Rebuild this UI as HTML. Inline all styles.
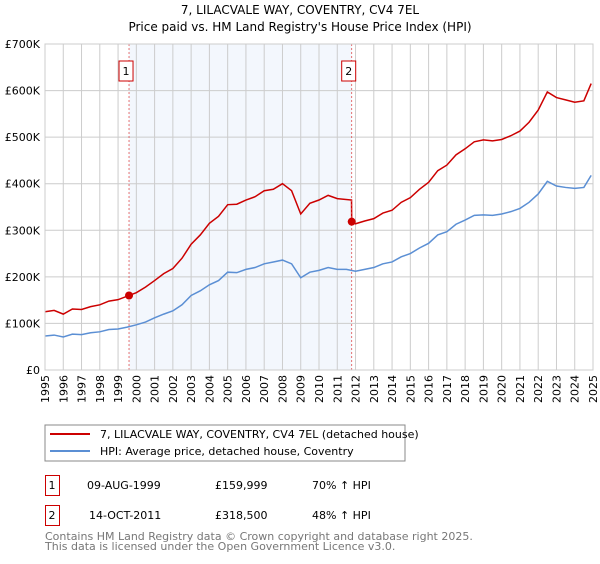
<!DOCTYPE html>
<html><head><meta charset="utf-8"><style>
body{margin:0;background:#fff;font-family:"DejaVu Sans","Liberation Sans",sans-serif;}
svg text{font-family:"DejaVu Sans","Liberation Sans",sans-serif;}
</style></head><body>
<svg id="c" width="600" height="560" xmlns="http://www.w3.org/2000/svg">
<text x="300" y="14" text-anchor="middle" font-size="12">7, LILACVALE WAY, COVENTRY, CV4 7EL</text>
<text x="300" y="31" text-anchor="middle" font-size="12">Price paid vs. HM Land Registry's House Price Index (HPI)</text>
<g id="grid"></g><g id="series"></g><g id="axes"></g>
<rect x="45" y="425" width="360" height="36" fill="#fff" stroke="#888"/>
<line x1="50" y1="434" x2="90" y2="434" stroke="#cc0000" stroke-width="2"/>
<text x="100" y="438" font-size="11">7, LILACVALE WAY, COVENTRY, CV4 7EL (detached house)</text>
<line x1="50" y1="451" x2="90" y2="451" stroke="#5b8fd4" stroke-width="2"/>
<text x="100" y="455" font-size="11">HPI: Average price, detached house, Coventry</text>
<g>
<rect x="45.5" y="475.5" width="14" height="20" fill="none" stroke="#cc0000"/><text x="52" y="489" font-size="11" text-anchor="middle">1</text>
<text x="87" y="489" font-size="11">09-AUG-1999</text><text x="215" y="489" font-size="11">£159,999</text><text x="312" y="489" font-size="11">70% ↑ HPI</text></g>
<g>
<rect x="45.5" y="505.5" width="14" height="20" fill="none" stroke="#cc0000"/><text x="52" y="519" font-size="11" text-anchor="middle">2</text>
<text x="89" y="519" font-size="11">14-OCT-2011</text><text x="215" y="519" font-size="11">£318,500</text><text x="312" y="519" font-size="11">48% ↑ HPI</text></g>
<text x="45" y="540" font-size="11" fill="#777">Contains HM Land Registry data © Crown copyright and database right 2025.</text>
<text x="45" y="550" font-size="11" fill="#777">This data is licensed under the Open Government Licence v3.0.</text>
</svg>
<script>
const hpiYears=[1995,1995.5,1996,1996.5,1997,1997.5,1998,1998.5,1999,1999.5,2000,2000.5,2001,2001.5,2002,2002.5,2003,2003.5,2004,2004.5,2005,2005.5,2006,2006.5,2007,2007.5,2008,2008.5,2009,2009.5,2010,2010.5,2011,2011.5,2012,2012.5,2013,2013.5,2014,2014.5,2015,2015.5,2016,2016.5,2017,2017.5,2018,2018.5,2019,2019.5,2020,2020.5,2021,2021.5,2022,2022.5,2023,2023.5,2024,2024.5,2024.9];
const hpiValues=[73,75,71,77,76,80,82,87,88,92,97,103,112,120,127,140,160,170,183,192,210,209,216,220,228,232,236,228,198,210,214,220,216,216,212,216,220,228,232,243,250,262,272,290,297,313,322,332,333,332,335,340,347,360,378,405,395,392,390,392,418];
const redYears=[1995,1995.5,1996,1996.5,1997,1997.5,1998,1998.5,1999,1999.6,2000,2000.5,2001,2001.5,2002,2002.5,2003,2003.5,2004,2004.5,2005,2005.5,2006,2006.5,2007,2007.5,2008,2008.5,2009,2009.5,2010,2010.5,2011,2011.78,2011.79,2012,2012.5,2013,2013.5,2014,2014.5,2015,2015.5,2016,2016.5,2017,2017.5,2018,2018.5,2019,2019.5,2020,2020.5,2021,2021.5,2022,2022.5,2023,2023.5,2024,2024.5,2024.9];
const redValues=[125,128,120,131,130,136,140,148,151,160,166,178,192,207,218,240,270,290,315,330,355,356,365,372,385,388,400,385,335,358,365,375,368,365,318.5,314,320,325,337,343,360,370,388,403,428,440,462,475,490,494,492,495,503,513,532,558,597,585,580,575,578,615];
const saleYears=[1999.6,2011.79];
const saleValues=[159.999,318.5];
const saleLabels=["1","2"];
const yTicks=[0,100,200,300,400,500,600,700];
const yTickLabels=["£0","£100K","£200K","£300K","£400K","£500K","£600K","£700K"];
const xTicks=[1995,1996,1997,1998,1999,2000,2001,2002,2003,2004,2005,2006,2007,2008,2009,2010,2011,2012,2013,2014,2015,2016,2017,2018,2019,2020,2021,2022,2023,2024,2025];

const X0=45,X1=593,Y0=370,Y1=44;
const xs=v=>X0+(v-1995)/30*(X1-X0);
const ys=v=>Y0-v/700*(Y0-Y1);
const NS="http://www.w3.org/2000/svg";
function mk(tag,attrs,parent,txt){const e=document.createElementNS(NS,tag);for(const k in attrs)e.setAttribute(k,attrs[k]);if(txt!==undefined)e.textContent=txt;parent.appendChild(e);return e;}
const grid=document.getElementById('grid'),ser=document.getElementById('series'),ax=document.getElementById('axes');
const shade=mk('rect',{x:xs(saleYears[0]),y:Y1,width:xs(saleYears[1])-xs(saleYears[0]),height:Y0-Y1,fill:'#f3f7fd'},grid);


xTicks.forEach(t=>{
 const l=mk('line',{x1:xs(t),x2:xs(t),y1:Y1,y2:Y0,stroke:'#ccc'},grid);
 
 
 const tx=mk('text',{x:0,y:0,'font-size':11,'text-anchor':'end',transform:`translate(${xs(t)+4},${Y0+5}) rotate(-90)`},ax,String(t));
 
 
});
yTicks.forEach((t,i)=>{
 const l=mk('line',{x1:X0,x2:X1,y1:ys(t),y2:ys(t),stroke:'#ccc'},grid);
 
 
 const tx=mk('text',{x:X0-5,y:ys(t)+4,'font-size':11,'text-anchor':'end'},ax,yTickLabels[i]);
 
 
});
const frame=mk('rect',{x:X0,y:Y1,width:X1-X0,height:Y0-Y1,fill:'none',stroke:'#ccc'},ax);


const hp=mk('polyline',{points:hpiYears.map((y,i)=>xs(y)+','+ys(hpiValues[i])).join(' '),fill:'none',stroke:'#5b8fd4','stroke-width':1.5},ser);


const rp=mk('polyline',{points:redYears.map((y,i)=>xs(y)+','+ys(redValues[i])).join(' '),fill:'none',stroke:'#cc0000','stroke-width':1.5},ser);


saleYears.forEach((y,i)=>{
 const l=mk('line',{x1:xs(y),x2:xs(y),y1:Y1,y2:Y0,stroke:'#e05050','stroke-dasharray':'2,2','stroke-width':0.8},ser);
 
 
 const c=mk('circle',{cx:xs(y),cy:ys(saleValues[i]*1),r:4,fill:'#cc0000'},ser);
 
 
 const r=mk('rect',{x:xs(y)-10,y:61,width:14,height:20,fill:'#fff',stroke:'#cc0000'},ser);
 
 
 const t=mk('text',{x:xs(y)-3,y:75,'font-size':11,'text-anchor':'middle'},ser,saleLabels[i]);
 
 
});
</script>
</body></html>
